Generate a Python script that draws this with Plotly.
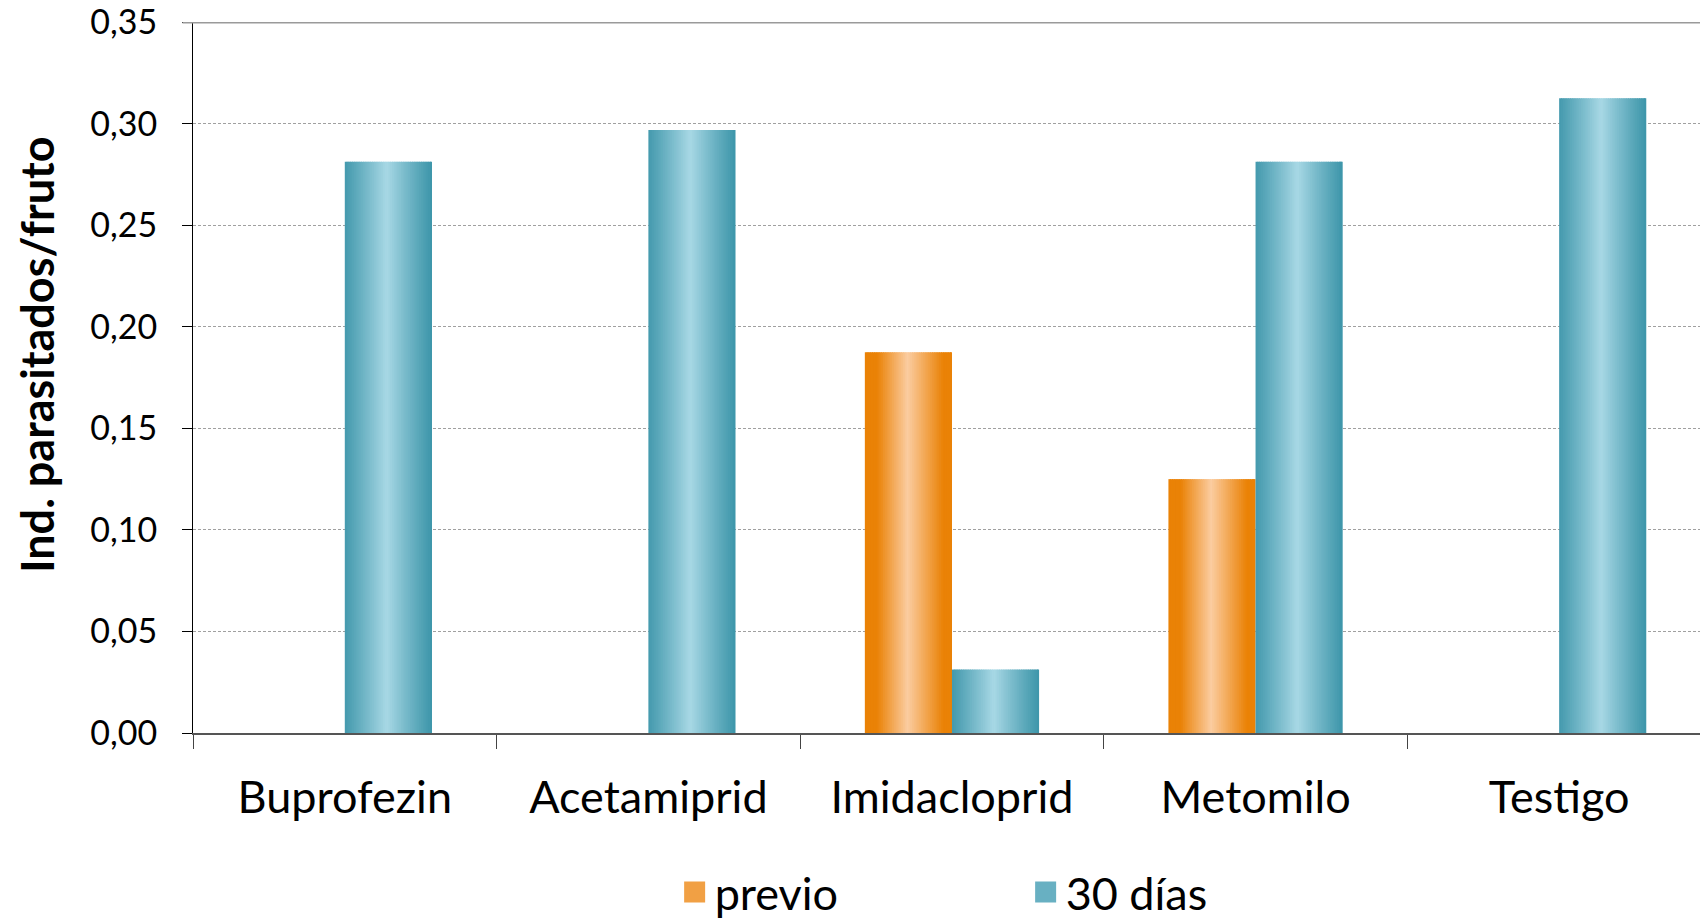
import plotly.graph_objects as go

categories = ["Buprofezin", "Acetamiprid", "Imidacloprid", "Metomilo", "Testigo"]
previo = [0, 0, 0.1875, 0.125, 0]
dias30 = [0.28125, 0.296875, 0.03125, 0.28125, 0.3125]
series_names = ["previo", "30 días"]
y_ticks = [0, 0.05, 0.10, 0.15, 0.20, 0.25, 0.30, 0.35]
y_title = "Ind. parasitados/fruto"

FONT = "Lato"
N = 48
BAR_W = 0.287

def mix(c1, c2, m):
    return "rgb(%d,%d,%d)" % tuple(round(a + (b - a) * m) for a, b in zip(c1, c2))

def teal_profile(t):
    return max(0.0, 1 - abs(t - 0.48) / 0.52) ** 1.1

def orange_profile(t):
    if t < 0.14 or t > 0.9:
        return 0.0
    if t < 0.49:
        return (t - 0.14) / 0.35
    return (0.9 - t) / 0.41

specs = [
    (series_names[0], previo, -BAR_W, (234, 130, 6), (251, 204, 160), orange_profile),
    (series_names[1], dias30, 0.0, (62, 150, 170), (168, 216, 229), teal_profile),
]

fig = go.Figure()
for name, vals, base, dark, light, prof in specs:
    for k in range(N):
        t = (k + 0.5) / N
        col = mix(dark, light, prof(t))
        fig.add_trace(go.Bar(
            x=categories, y=vals, name=name,
            offset=base + k * BAR_W / N,
            width=BAR_W / N * 1.5 if k < N - 1 else BAR_W / N,
            marker=dict(color=col, line=dict(width=0)),
            showlegend=False, hoverinfo="skip",
        ))
    # legend entry (no data drawn)
    fig.add_trace(go.Scatter(
        x=[None], y=[None], name=name, mode="markers",
        marker=dict(symbol="square", size=30, color=mix(dark, light, 0.4),
                    line=dict(width=5, color=mix(dark, light, 0.4))),
        showlegend=True,
    ))

fig.add_shape(type="line", xref="paper", yref="y", x0=-0.007, x1=1, y0=0.35, y1=0.35,
              line=dict(color="#9a9a9a", width=2.5), layer="above")

fig.add_annotation(text="<b>" + y_title + "</b>", xref="paper", yref="paper",
                   x=-0.1035, y=0.532, xanchor="center", yanchor="middle",
                   textangle=-90, showarrow=False,
                   font=dict(size=45, family=FONT, color="black"))

fig.update_layout(
    width=1700, height=921,
    barmode="overlay",
    separators=",.",
    paper_bgcolor="white", plot_bgcolor="white",
    margin=dict(l=193, r=0, t=22, b=188, autoexpand=False),
    font=dict(family=FONT, color="black"),
    legend=dict(orientation="h", x=0.3196, xanchor="left", y=-0.224, yanchor="middle",
                font=dict(size=45, family=FONT), entrywidth=306, entrywidthmode="pixels",
                itemwidth=30, traceorder="normal", itemsizing="trace"),
    xaxis=dict(
        range=[-0.5, 4.464], showgrid=False, automargin=False,
        showline=True, linecolor="#555555", linewidth=2,
        ticks="outside", tickson="boundaries", ticklen=14, tickcolor="#444444", tickwidth=1,
        tickfont=dict(size=45, family=FONT), ticklabelstandoff=24,
    ),
    yaxis=dict(
        range=[0, 0.3501], tickvals=y_ticks, tickformat=".2f", automargin=False,
        ticklabeloverflow="allow",
        showgrid=True, gridcolor="#a0a0a0", gridwidth=1, griddash="3px,2px",
        showline=True, linecolor="black", linewidth=1,
        ticks="outside", ticklen=10, tickcolor="black",
        tickfont=dict(size=34, family=FONT), ticklabelstandoff=18,
        zeroline=False,
    ),
)

fig.write_html("out.html",
               config={"displayModeBar": False},
               post_script="document.body.style.margin='0';document.body.style.overflow='hidden';")
